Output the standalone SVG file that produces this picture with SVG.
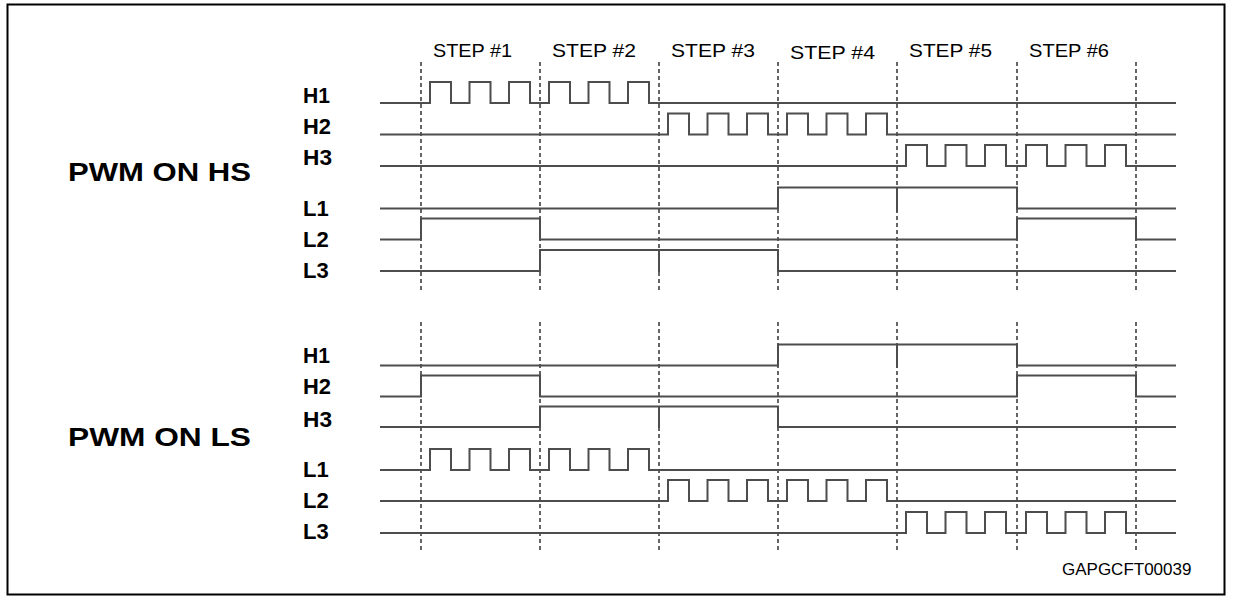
<svg xmlns="http://www.w3.org/2000/svg" width="1233" height="601" viewBox="0 0 1233 601">
<style>
.frame{fill:none;stroke:#000;stroke-width:2}
.sig{fill:none;stroke:#4d4d4d;stroke-width:2;stroke-linejoin:miter}
.div{stroke:#333;stroke-width:1.5;stroke-dasharray:4 3}
.lbl{font-family:"Liberation Sans",Arial,sans-serif;font-weight:bold;font-size:22px;fill:#000}
.title{font-family:"Liberation Sans",Arial,sans-serif;font-weight:bold;font-size:26px;fill:#000}
.step{font-family:"Liberation Sans",Arial,sans-serif;font-size:19px;fill:#000}
.code{font-family:"Liberation Sans",Arial,sans-serif;font-size:17px;fill:#000}
</style>
<rect class="frame" x="7.5" y="4.5" width="1217" height="590"/>
<g id="step-labels">
<text class="step" x="433" y="57" textLength="79" lengthAdjust="spacingAndGlyphs">STEP #1</text>
<text class="step" x="552" y="57" textLength="84" lengthAdjust="spacingAndGlyphs">STEP #2</text>
<text class="step" x="671" y="57" textLength="84" lengthAdjust="spacingAndGlyphs">STEP #3</text>
<text class="step" x="790" y="59" textLength="85" lengthAdjust="spacingAndGlyphs">STEP #4</text>
<text class="step" x="909" y="57" textLength="83" lengthAdjust="spacingAndGlyphs">STEP #5</text>
<text class="step" x="1029" y="57" textLength="80" lengthAdjust="spacingAndGlyphs">STEP #6</text>
</g>
<g id="connectors">
<g id="dividers-top">
<line class="div" x1="421" y1="62" x2="421" y2="291"/>
<line class="div" x1="540" y1="62" x2="540" y2="291"/>
<line class="div" x1="659" y1="62" x2="659" y2="291"/>
<line class="div" x1="778" y1="62" x2="778" y2="291"/>
<line class="div" x1="897" y1="62" x2="897" y2="291"/>
<line class="div" x1="1017" y1="62" x2="1017" y2="291"/>
<line class="div" x1="1136" y1="62" x2="1136" y2="291"/>
</g>
<g id="dividers-bottom">
<line class="div" x1="421" y1="322" x2="421" y2="553"/>
<line class="div" x1="540" y1="322" x2="540" y2="553"/>
<line class="div" x1="659" y1="322" x2="659" y2="553"/>
<line class="div" x1="778" y1="322" x2="778" y2="553"/>
<line class="div" x1="897" y1="322" x2="897" y2="553"/>
<line class="div" x1="1017" y1="322" x2="1017" y2="553"/>
<line class="div" x1="1136" y1="322" x2="1136" y2="553"/>
</g>
</g>
<g id="pwm-on-hs">
<text class="title" x="68" y="181" textLength="183" lengthAdjust="spacingAndGlyphs">PWM ON HS</text>
<g id="hs-H1"><text class="lbl" x="303" y="103" textLength="27" lengthAdjust="spacingAndGlyphs">H1</text>
<path class="sig" d="M380 103H430V82H451V103H469.5V82H490.5V103H509V82H530V103H549V82H570V103H588.5V82H609.5V103H628V82H649V103H1176"/></g>
<g id="hs-H2"><text class="lbl" x="303" y="134" textLength="28" lengthAdjust="spacingAndGlyphs">H2</text>
<path class="sig" d="M380 134.5H668V113.5H689V134.5H707.5V113.5H728.5V134.5H747V113.5H768V134.5H787V113.5H808V134.5H826.5V113.5H847.5V134.5H866V113.5H887V134.5H1176"/></g>
<g id="hs-H3"><text class="lbl" x="303" y="165" textLength="29" lengthAdjust="spacingAndGlyphs">H3</text>
<path class="sig" d="M380 166H906V145H927V166H945.5V145H966.5V166H985V145H1006V166H1026V145H1047V166H1065.5V145H1086.5V166H1105V145H1126V166H1176"/></g>
<g id="hs-L1"><text class="lbl" x="303" y="216">L1</text>
<path class="sig" d="M380 208.5H778V187.5H1017V208.5H1176M897 187.5V212"/></g>
<g id="hs-L2"><text class="lbl" x="303" y="247">L2</text>
<path class="sig" d="M380 239.5H421V218.5H540V239.5H1017V218.5H1136V239.5H1176"/></g>
<g id="hs-L3"><text class="lbl" x="303" y="278">L3</text>
<path class="sig" d="M380 271H540V250H778V271H1176M659 250V272"/></g>
</g>
<g id="pwm-on-ls">
<text class="title" x="68" y="446" textLength="183" lengthAdjust="spacingAndGlyphs">PWM ON LS</text>
<g id="ls-H1"><text class="lbl" x="303" y="363" textLength="27" lengthAdjust="spacingAndGlyphs">H1</text>
<path class="sig" d="M380 365.5H778V344.5H1017V365.5H1176M897 344.5V368"/></g>
<g id="ls-H2"><text class="lbl" x="303" y="394" textLength="28" lengthAdjust="spacingAndGlyphs">H2</text>
<path class="sig" d="M380 396.5H421V375.5H540V396.5H1017V375.5H1136V396.5H1176"/></g>
<g id="ls-H3"><text class="lbl" x="303" y="427" textLength="29" lengthAdjust="spacingAndGlyphs">H3</text>
<path class="sig" d="M380 427H540V406.5H778V427H1176M659 406.5V428"/></g>
<g id="ls-L1"><text class="lbl" x="303" y="477">L1</text>
<path class="sig" d="M380 470H430V449H451V470H469.5V449H490.5V470H509V449H530V470H549V449H570V470H588.5V449H609.5V470H628V449H649V470H1176"/></g>
<g id="ls-L2"><text class="lbl" x="303" y="508">L2</text>
<path class="sig" d="M380 501H668V480H689V501H707.5V480H728.5V501H747V480H768V501H787V480H808V501H826.5V480H847.5V501H866V480H887V501H1176"/></g>
<g id="ls-L3"><text class="lbl" x="303" y="539">L3</text>
<path class="sig" d="M380 533H906V512H927V533H945.5V512H966.5V533H985V512H1006V533H1026V512H1047V533H1065.5V512H1086.5V533H1105V512H1126V533H1176"/></g>
</g>
<text class="code" x="1062" y="575">GAPGCFT00039</text>
</svg>
